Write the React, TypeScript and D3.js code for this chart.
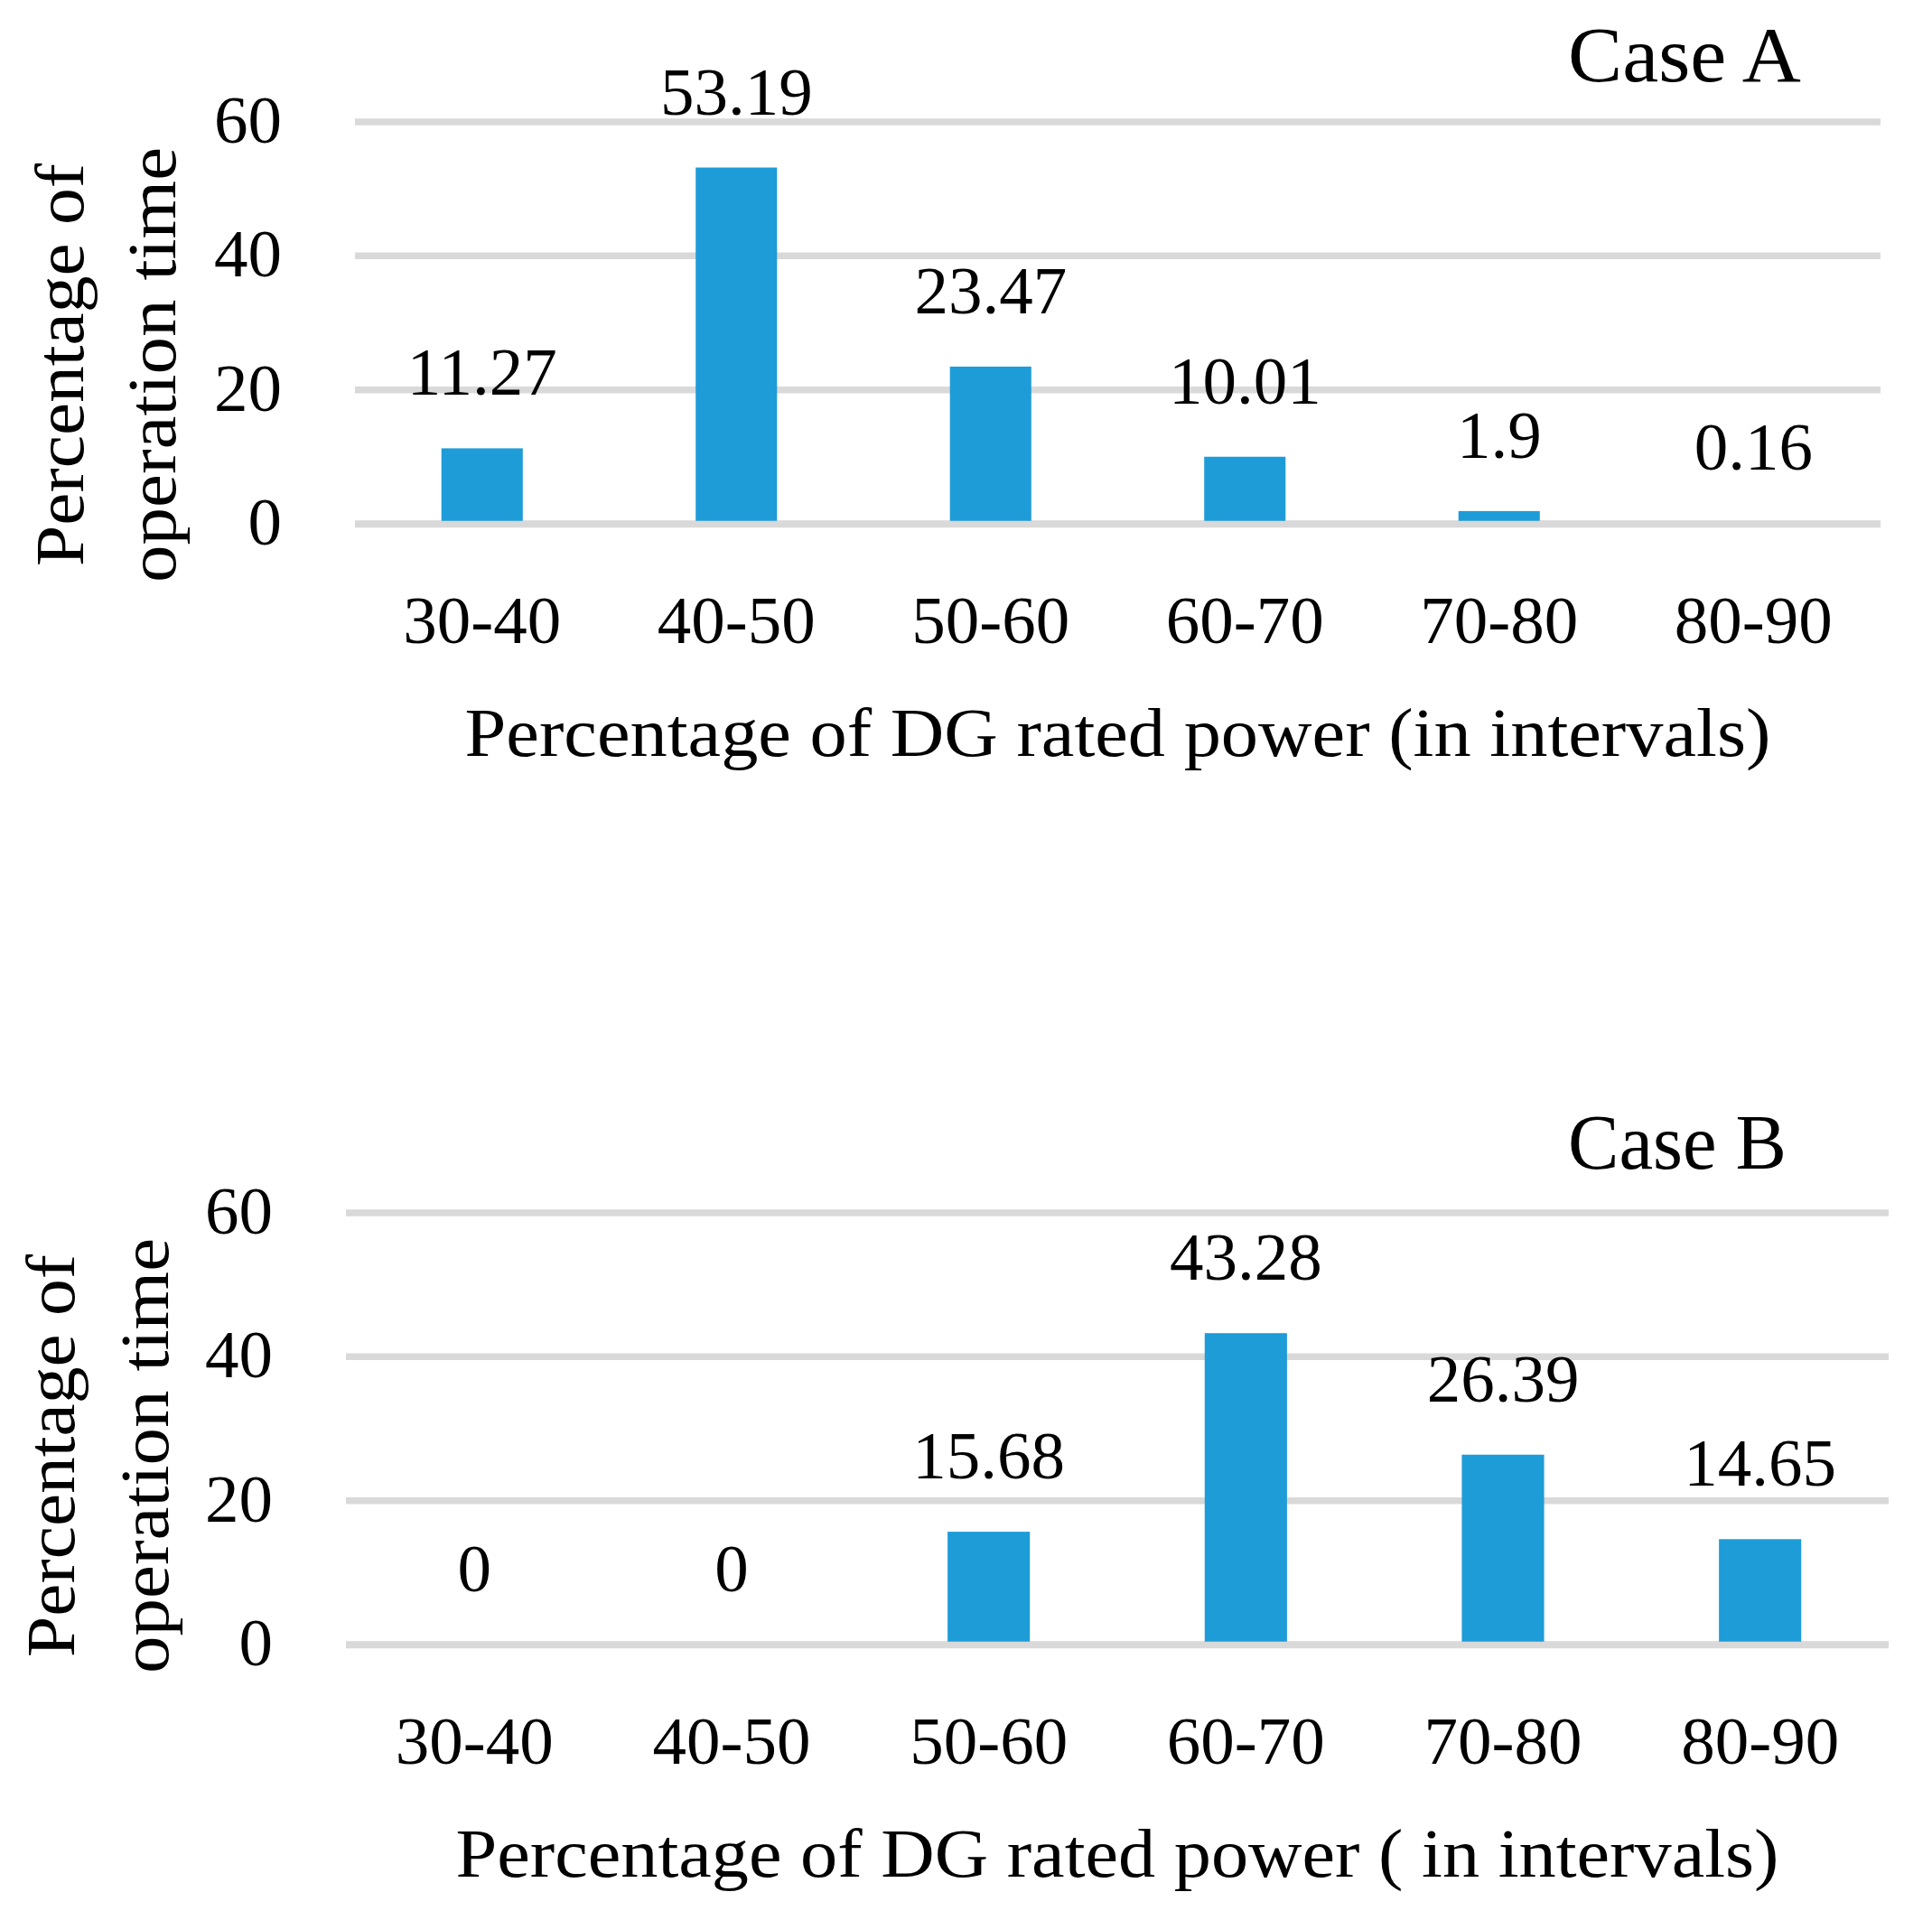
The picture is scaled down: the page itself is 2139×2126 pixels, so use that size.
import React, { useRef, useEffect } from 'react';
import * as d3 from 'd3';

const intervals = ['30-40', '40-50', '50-60', '60-70', '70-80', '80-90'];
const caseAValues = [11.27, 53.19, 23.47, 10.01, 1.9, 0.16];
const caseBValues = [0, 0, 15.68, 43.28, 26.39, 14.65];
const yTicks = [0, 20, 40, 60];

const WIDTH = 2139;
const HEIGHT = 2126;
const FONT = '"Liberation Serif", "Times New Roman", serif';
const BAR_COLOR = '#1e9cd8';
const GRID_COLOR = '#d9d9d9';

interface PanelSpec {
  values: number[];
  caseLabel: string;
  caseWidth: number;
  xTitle: string;
  xTitleWidth: number;
  left: number;
  right: number;
  yZero: number;
  yTop: number;
  yTitleX: [number, number];
  yTitleCenter: number;
  caseY: number;
}

const panels: PanelSpec[] = [
  {
    values: caseAValues,
    caseLabel: 'Case A',
    caseWidth: 258,
    xTitle: 'Percentage of DG rated power (in intervals)',
    xTitleWidth: 1446,
    left: 393,
    right: 2082,
    yZero: 580,
    yTop: 135,
    yTitleX: [92, 194],
    yTitleCenter: 404,
    caseY: 90,
  },
  {
    values: caseBValues,
    caseLabel: 'Case B',
    caseWidth: 242,
    xTitle: 'Percentage of DG rated power ( in intervals)',
    xTitleWidth: 1465,
    left: 383,
    right: 2091,
    yZero: 1821,
    yTop: 1343,
    yTitleX: [82, 186],
    yTitleCenter: 1612,
    caseY: 1294,
  },
];

const App: React.FC = () => {
  const svgRef = useRef<SVGSVGElement>(null);

  useEffect(() => {
    if (!svgRef.current) return;
    const svg = d3.select(svgRef.current);
    svg.selectAll('*').remove();

    svg.append('rect')
      .attr('width', WIDTH)
      .attr('height', HEIGHT)
      .attr('fill', '#ffffff');

    panels.forEach((p) => {
      const g = svg.append('g');

      const x = d3.scaleBand<string>()
        .domain(intervals)
        .range([p.left, p.right])
        .paddingInner(0.68)
        .paddingOuter(0.34);

      const y = d3.scaleLinear()
        .domain([0, 60])
        .range([p.yZero, p.yTop]);

      // gridlines
      g.selectAll('.grid')
        .data(yTicks)
        .enter()
        .append('line')
        .attr('x1', p.left)
        .attr('x2', p.right)
        .attr('y1', d => y(d))
        .attr('y2', d => y(d))
        .attr('stroke', GRID_COLOR)
        .attr('stroke-width', 7.5);

      // bars
      g.selectAll('.bar')
        .data(p.values)
        .enter()
        .append('rect')
        .attr('x', (_, i) => x(intervals[i]) || 0)
        .attr('width', x.bandwidth())
        .attr('y', d => y(d))
        .attr('height', d => Math.max(y(0) - y(d), 0))
        .attr('fill', BAR_COLOR);

      // zero line on top of bars
      g.append('line')
        .attr('x1', p.left)
        .attr('x2', p.right)
        .attr('y1', y(0) + 0.5)
        .attr('y2', y(0) + 0.5)
        .attr('stroke', GRID_COLOR)
        .attr('stroke-width', 7.5);

      // value labels
      g.selectAll('.label')
        .data(p.values)
        .enter()
        .append('text')
        .attr('x', (_, i) => (x(intervals[i]) || 0) + x.bandwidth() / 2)
        .attr('y', d => y(d) - 59)
        .attr('text-anchor', 'middle')
        .style('font-family', FONT)
        .style('font-size', '75px')
        .attr('fill', '#000')
        .text(d => String(d));

      // y tick labels
      g.selectAll('.ytick')
        .data(yTicks)
        .enter()
        .append('text')
        .attr('x', p.left - 81)
        .attr('y', d => y(d) + 23)
        .attr('text-anchor', 'end')
        .style('font-family', FONT)
        .style('font-size', '75px')
        .attr('fill', '#000')
        .text(d => String(d));

      // x tick labels
      g.selectAll('.xtick')
        .data(intervals)
        .enter()
        .append('text')
        .attr('x', d => (x(d) || 0) + x.bandwidth() / 2)
        .attr('y', y(0) + 132)
        .attr('text-anchor', 'middle')
        .style('font-family', FONT)
        .style('font-size', '75px')
        .attr('fill', '#000')
        .text(d => d);

      // x title
      g.append('text')
        .attr('x', (p.left + p.right) / 2)
        .attr('y', y(0) + 257)
        .attr('text-anchor', 'middle')
        .attr('textLength', p.xTitleWidth)
        .attr('lengthAdjust', 'spacingAndGlyphs')
        .style('font-family', FONT)
        .style('font-size', '76px')
        .attr('fill', '#000')
        .text(p.xTitle);

      // y title, two lines
      const yTitleLines = ['Percentage of', 'operation time'];
      const yTitleLens = [446, 482];
      yTitleLines.forEach((line, i) => {
        g.append('text')
          .attr('transform', `translate(${p.yTitleX[i]},${p.yTitleCenter}) rotate(-90)`)
          .attr('text-anchor', 'middle')
          .attr('textLength', yTitleLens[i])
          .attr('lengthAdjust', 'spacingAndGlyphs')
          .style('font-family', FONT)
          .style('font-size', '76px')
          .attr('fill', '#000')
          .text(line);
      });

      // case label
      g.append('text')
        .attr('x', 1736)
        .attr('y', p.caseY)
        .attr('text-anchor', 'start')
        .attr('textLength', p.caseWidth)
        .attr('lengthAdjust', 'spacingAndGlyphs')
        .style('font-family', FONT)
        .style('font-size', '87px')
        .attr('fill', '#000')
        .text(p.caseLabel);
    });
  }, []);

  return (
    <svg
      ref={svgRef}
      width={WIDTH}
      height={HEIGHT}
      viewBox={`0 0 ${WIDTH} ${HEIGHT}`}
      style={{ position: 'absolute', left: 0, top: 0 }}
    />
  );
};

export default App;
